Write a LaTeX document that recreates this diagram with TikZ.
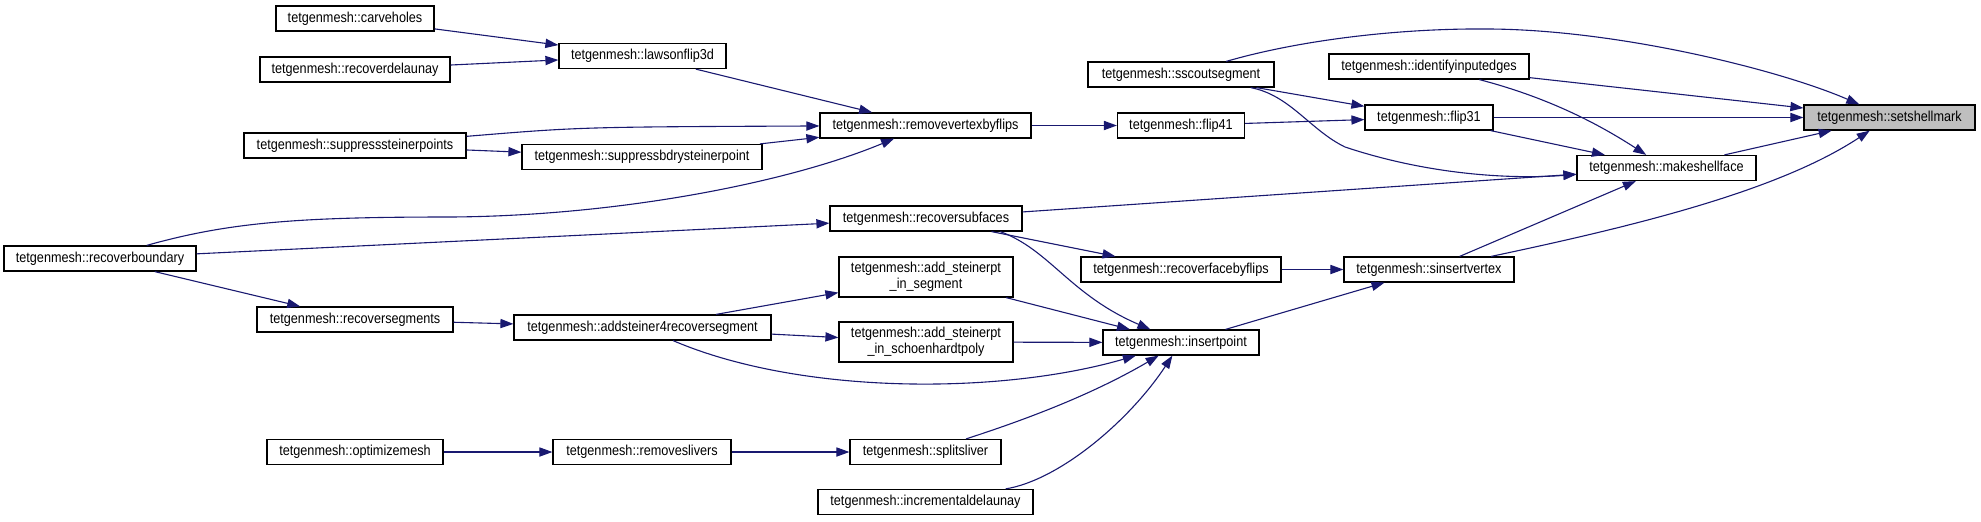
\documentclass[tikz,border=0pt]{standalone}
\usepackage{fontspec}
\setmainfont{Liberation Sans}[FakeStretch=0.88]
\usetikzlibrary{arrows.meta}
\definecolor{edgeblue}{RGB}{25,25,112}
\definecolor{markgray}{RGB}{191,191,191}
\newcommand{\fnsize}{\fontsize{7.2}{8.2}\selectfont}
\tikzset{
  fn/.style={draw=black,line width=0.6pt,fill=white,font=\fnsize,inner sep=0pt,
    minimum height=12.5pt,minimum width={#1*0.5pt}},
  fntwo/.style={fn=#1,minimum height=20pt,align=center},
  call/.style={edgeblue,line width=0.55pt,-{Triangle[length=6.5pt,width=4.6pt]}}
}

\begin{document}
\begin{tikzpicture}[x=0.5pt,y=-0.5pt]
        \useasboundingbox (0,0) rectangle (1981,521);
        % callers, left to right
        \node[fn=158] (carve) at (355,18.5) {tetgenmesh::carveholes};
        \node[fn=190] (recdel) at (355,69.5) {tetgenmesh::recoverdelaunay};
        \node[fn=222] (supst) at (355,145.5) {tetgenmesh::suppresssteinerpoints};
        \node[fn=192] (recbnd) at (100,258.5) {tetgenmesh::recoverboundary};
        \node[fn=196] (recseg) at (355,319.5) {tetgenmesh::recoversegments};
        \node[fn=176] (optmesh) at (355,452) {tetgenmesh::optimizemesh};
        \node[fn=167] (lawson) at (642.5,56) {tetgenmesh::lawsonflip3d};
        \node[fn=240] (supbdry) at (642,157) {tetgenmesh::suppressbdrysteinerpoint};
        \node[fn=257] (addst4) at (642.5,327.5) {tetgenmesh::addsteiner4recoversegment};
        \node[fn=178] (remsliv) at (642,452) {tetgenmesh::removeslivers};
        \node[fn=211] (rvbf) at (925.5,125.5) {tetgenmesh::removevertexbyflips};
        \node[fn=192] (recsub) at (926,218.5) {tetgenmesh::recoversubfaces};
        \node[fntwo=174] (addseg) at (926,277) {tetgenmesh::add\_steinerpt\\\_in\_segment};
        \node[fntwo=174] (addsch) at (926,342) {tetgenmesh::add\_steinerpt\\\_in\_schoenhardtpoly};
        \node[fn=151] (split) at (925.5,452) {tetgenmesh::splitsliver};
        \node[fn=215] (incdel) at (925.5,502) {tetgenmesh::incrementaldelaunay};
        \node[fn=186] (sscout) at (1181,74.5) {tetgenmesh::sscoutsegment};
        \node[fn=127] (flip41) at (1181,125.5) {tetgenmesh::flip41};
        \node[fn=200] (recface) at (1181,269.5) {tetgenmesh::recoverfacebyflips};
        \node[fn=156] (inspt) at (1181,342.5) {tetgenmesh::insertpoint};
        \node[fn=200] (identify) at (1429,66.5) {tetgenmesh::identifyinputedges};
        \node[fn=128] (flip31) at (1429,117.5) {tetgenmesh::flip31};
        \node[fn=170] (sinsert) at (1429,269.5) {tetgenmesh::sinsertvertex};
        \node[fn=179] (mkshell) at (1666.5,168) {tetgenmesh::makeshellface};
        \node[fn=171,fill=markgray] (setshell) at (1889.5,117.5) {tetgenmesh::setshellmark};
        % straight calls
        \foreach \a/\b in {carve/lawson,recdel/lawson,lawson/rvbf,supst/supbdry,supbdry/rvbf,
            recbnd/recsub,recbnd/recseg,recseg/addst4,addst4/addseg,addst4/addsch,
            addseg/inspt,addsch/inspt,recsub/recface,recsub/mkshell,recface/sinsert,
            inspt/sinsert,remsliv/split,optmesh/remsliv,rvbf/flip41,flip41/flip31,
            sscout/flip31,identify/setshell,flip31/setshell,flip31/mkshell,
            mkshell/setshell,sinsert/mkshell}
            \draw[call] (\a) -- (\b);
        % bent calls
        \draw[call] (supst) .. controls (580,127) .. (rvbf);
        \draw[call] (recbnd) .. controls (230,222) and (300,217) .. (450,217)
            .. controls (620,216) and (790,182) .. (rvbf);
        \draw[call] (addst4) .. controls (800,395) and (1000,395) .. (inspt);
        \draw[call] (recsub.-10) .. controls (1050,250) and (1070,295) .. (inspt);
        \draw[call] (split) .. controls (1040,415) and (1100,390) .. (inspt);
        \draw[call] (incdel) .. controls (1060,480) and (1130,420) .. (inspt);
        \draw[call] (sscout) .. controls (1290,95) and (1310,130) .. (1345,147)
            .. controls (1420,172) and (1500,180) .. (mkshell);
        \draw[call] (sscout) .. controls (1300,40) and (1400,28) .. (1490,29)
            .. controls (1620,30) and (1780,70) .. (setshell);
        \draw[call] (identify) .. controls (1550,98) and (1600,125) .. (mkshell);
        \draw[call] (sinsert) .. controls (1640,225) and (1780,190) .. (setshell);
      \end{tikzpicture}
\end{document}
